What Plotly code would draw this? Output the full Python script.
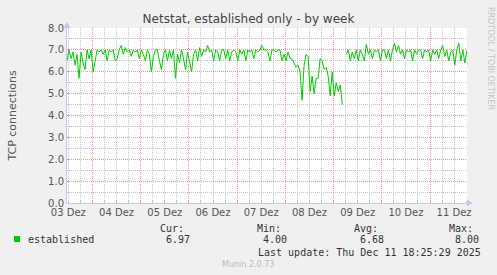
import plotly.graph_objects as go
import pandas as pd

# ---- data (hourly samples) ----
start_time = "2025-12-03 11:20"
values = [
    6.5, 7.0, 6.6, 6.9, 6.3, 6.8, 5.7, 6.9, 6.4, 6.1,
    7.0, 6.6, 7.0, 6.0, 6.5, 7.0, 6.9, 7.0, 6.8, 7.0,
    6.5, 7.0, 6.9, 7.0, 6.5, 6.6, 7.0, 7.2, 6.8, 7.1,
    6.9, 7.0, 6.7, 7.0, 6.9, 7.0, 6.6, 7.0, 6.8, 6.5,
    7.0, 6.8, 6.0, 6.7, 7.0, 7.0, 6.5, 6.1, 6.8, 7.0,
    6.5, 7.0, 6.6, 7.0, 5.7, 6.8, 6.4, 7.0, 6.6, 6.1,
    6.9, 6.5, 6.0, 6.8, 7.0, 6.5, 7.1, 6.7, 7.0, 6.9,
    7.2, 6.9, 7.0, 6.5, 7.0, 6.9, 6.5, 7.0, 7.0, 6.6,
    7.0, 6.5, 6.9, 7.0, 6.9, 6.5, 7.0, 6.8, 7.0, 6.5,
    7.0, 6.9, 7.0, 6.6, 7.0, 6.9, 7.0, 7.2, 7.0, 7.0,
    6.9, 6.5, 7.0, 7.0, 6.9, 7.0, 7.0, 6.5, 6.8, 6.5,
    6.9, 6.6, 6.6, 6.4, 6.2, 6.3, 6.0, 4.7, 6.3, 6.8,
    6.7, 5.1, 5.8, 5.0, 5.7, 5.7, 6.6, 6.5, 6.1, 6.2,
    5.8, 4.9, 6.0, 4.9, 5.5, 5.1, 5.4, 4.5, None, 6.8,
    7.0, 6.5, 6.9, 6.6, 7.0, 6.5, 7.0, 6.8, 6.5, 7.25,
    6.8, 7.0, 6.6, 7.0, 6.9, 7.0, 6.5, 7.0, 7.0, 6.6,
    7.0, 6.5, 7.0, 7.3, 6.9, 7.2, 6.8, 7.0, 6.6, 7.0,
    6.9, 7.0, 6.5, 7.0, 6.8, 7.0, 7.0, 6.6, 7.0, 6.9,
    7.0, 6.5, 7.0, 6.8, 7.0, 6.6, 7.0, 7.2, 6.7, 7.0,
    6.5, 6.9, 7.0, 6.3, 7.0, 7.3, 6.5, 7.0, 6.4, 6.97,
]
times = pd.date_range(start_time, periods=len(values), freq="h")
x_range = ["2025-12-03 11:20", "2025-12-11 18:25"]

series_name = "established"
stat_labels = ["Cur:", "Min:", "Avg:", "Max:"]
stat_values = ["6.97", "4.00", "6.68", "8.00"]
title_text = "Netstat, established only - by week"
y_title = "TCP connections"
last_update = "Last update: Thu Dec 11 18:25:29 2025"
footer = "Munin 2.0.73"
side_text = "RRDTOOL / TOBI OETIKER"

W, H = 497, 275
L, R, T, B = 67, 467, 28, 203

def px(x):
    return (x - L) / (R - L)

def py(y):
    return (B - y) / (B - T)

fig = go.Figure()
fig.add_trace(go.Scatter(
    x=times, y=values, mode="lines", name=series_name,
    line=dict(color="#00cc00", width=1), connectgaps=False,
    hoverinfo="skip",
))

RED = "rgba(235,150,150,1)"
GREY = "rgba(195,195,195,1)"
AXC = "#c8c8ee"
DOT = "1px,1px"

fig.update_layout(
    width=W, height=H,
    margin=dict(l=L, r=W - R, t=T, b=H - B),
    paper_bgcolor="#f0f0f0", plot_bgcolor="#ffffff",
    showlegend=False,
    font=dict(family="DejaVu Sans", size=10, color="#555555"),
    title=dict(text=title_text, x=0.5, xanchor="center", y=1 - 19 / H,
               yanchor="middle", font=dict(size=12, color="#444444")),
    xaxis=dict(
        type="date", range=x_range,
        tick0="2025-12-03 00:00", dtick=86400000,
        ticklabelmode="period", tickformat="%d Dez",
        showgrid=True, gridcolor=RED, griddash=DOT, gridwidth=1,
        ticks="inside", ticklen=3, tickcolor=RED,
        showline=True, linecolor=AXC, linewidth=1,
        zeroline=False,
        tickfont=dict(size=10, color="#555555"),
        minor=dict(dtick=21600000, tick0="2025-12-03 00:00", showgrid=True,
                   gridcolor=GREY, griddash=DOT, gridwidth=1,
                   ticks="inside", ticklen=2, tickcolor=GREY),
        fixedrange=True,
    ),
    yaxis=dict(
        range=[0, 8], dtick=1, tickformat=".1f",
        showgrid=True, gridcolor=RED, griddash=DOT, gridwidth=1,
        ticks="inside", ticklen=3, tickcolor=RED,
        showline=True, linecolor=AXC, linewidth=1,
        zeroline=False,
        tickfont=dict(size=10, color="#555555"),
        title=dict(text=y_title, font=dict(size=11, color="#555555"), standoff=29),
        minor=dict(dtick=0.5, showgrid=True, gridcolor=GREY, griddash=DOT,
                   gridwidth=1, ticks="inside", ticklen=2, tickcolor=GREY),
        fixedrange=True,
    ),
)

# axis arrows
fig.add_shape(type="path", xref="paper", yref="paper",
              path=f"M {px(467)} {py(199.5)} L {px(473)} {py(203)} L {px(467)} {py(206.5)} Z",
              fillcolor=AXC, line=dict(color=AXC, width=0))
fig.add_shape(type="path", xref="paper", yref="paper",
              path=f"M {px(63.5)} {py(28)} L {px(67)} {py(22)} L {px(70.5)} {py(28)} Z",
              fillcolor=AXC, line=dict(color=AXC, width=0))

ann = []
mono = "DejaVu Sans Mono"
ann.append(dict(x=px(490), y=py(58), text=side_text, textangle=90, showarrow=False,
                font=dict(size=8, color="#c4c4c4"), xanchor="center", yanchor="middle"))
# legend square
fig.add_shape(type="rect", xref="paper", yref="paper",
              x0=px(14), x1=px(20), y0=py(242), y1=py(236),
              fillcolor="#00cc00", line=dict(width=0))
ann.append(dict(x=px(26), y=py(239), text=series_name, showarrow=False,
                xanchor="left", yanchor="middle", font=dict(family=mono, size=10, color="#333333")))
label_x = [158, 255, 352, 447]
value_x = [164, 261, 358, 453]
for lx, vx, lab, val in zip(label_x, value_x, stat_labels, stat_values):
    ann.append(dict(x=px(lx), y=py(228), text=lab, showarrow=False, xanchor="left",
                    yanchor="middle", font=dict(family=mono, size=10, color="#333333")))
    ann.append(dict(x=px(vx), y=py(239), text=val, showarrow=False, xanchor="left",
                    yanchor="middle", font=dict(family=mono, size=10, color="#333333")))
ann.append(dict(x=px(483), y=py(252), text=last_update, showarrow=False, xanchor="right",
                yanchor="middle", font=dict(family=mono, size=10, color="#333333")))
ann.append(dict(x=px(248), y=py(264), text=footer, showarrow=False, xanchor="center",
                yanchor="middle", font=dict(size=8, color="#bbbbbb")))
for a in ann:
    a["xref"] = "paper"
    a["yref"] = "paper"
fig.update_layout(annotations=ann)

fig.write_html("out.html")
